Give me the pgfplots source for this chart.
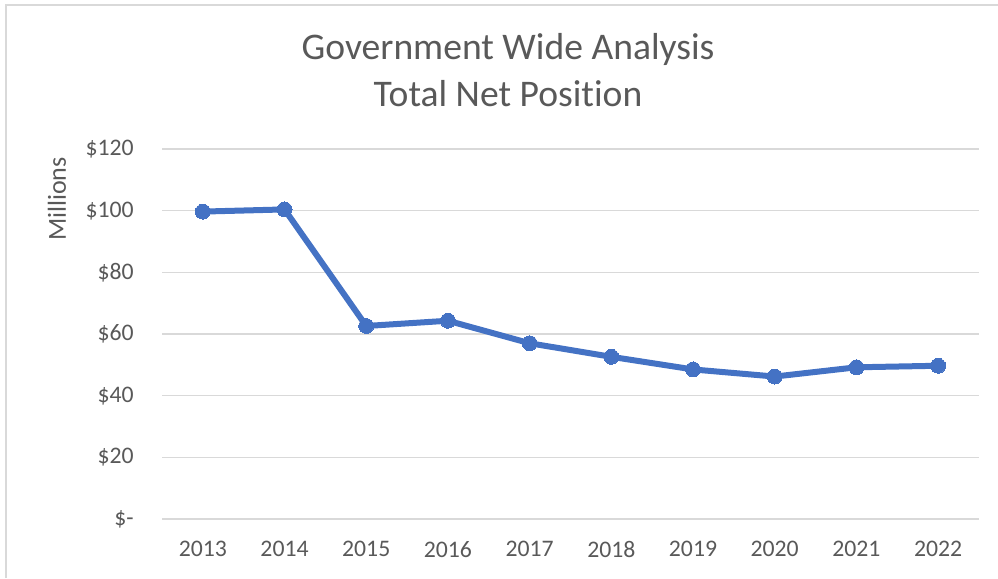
\documentclass[border=0pt]{standalone}
\usepackage{pgfplots}
\pgfplotsset{compat=1.18}
\usepackage{fontspec}
\setmainfont{Carlito}[RawFeature=-liga]
\definecolor{txtgray}{HTML}{595959}
\definecolor{gridgray}{HTML}{D9D9D9}
\definecolor{lineblue}{HTML}{4472C4}
\begin{document}
\begin{tikzpicture}[x=0.75pt,y=0.75pt]
\useasboundingbox (0,0) rectangle (998,578);
\draw[gridgray, line width=1.5pt] (6,0) -- (6,573) -- (998,573);
\node[txtgray, align=center, font=\fontsize{28.2}{35.25}\selectfont] at (508,507.5) {Government Wide Analysis\\Total Net Position};
\node[txtgray, rotate=90, font=\fontsize{19.5}{23}\selectfont] at (57,379) {Millions};
\begin{axis}[
  at={(121.5pt,44.25pt)}, anchor=south west,
  scale only axis, width=612.75pt, height=277.5pt,
  xmin=2012.5, xmax=2022.5, ymin=0, ymax=120,
  clip=false,
  axis line style={draw=none},
  tick style={draw=none},
  ymajorgrids, major grid style={gridgray, line width=1.1pt},
  xtick={2013,...,2022},
  xticklabels={2013,2014,2015,2016,2017,2018,2019,2020,2021,2022},
  ytick={0,20,...,120},
  yticklabels={\$-,\$20,\$40,\$60,\$80,\$100,\$120},
  ticklabel style={font=\fontsize{17.8}{21}\selectfont, text=txtgray},
  yticklabel style={anchor=east, inner sep=0pt, xshift=-21pt},
  xticklabel style={anchor=north, inner sep=0pt, yshift=-16.5pt},
  /pgf/number format/assume math mode=true,
]
\addplot[lineblue, line width=4.5pt, mark=*, mark size=5.6pt, mark options={fill=lineblue, draw=lineblue, line width=0pt}] coordinates {
(2013,99.7) (2014,100.4) (2015,62.6) (2016,64.3) (2017,57.0) (2018,52.6) (2019,48.5) (2020,46.2) (2021,49.2) (2022,49.7)
};
\end{axis}
\end{tikzpicture}
\end{document}
